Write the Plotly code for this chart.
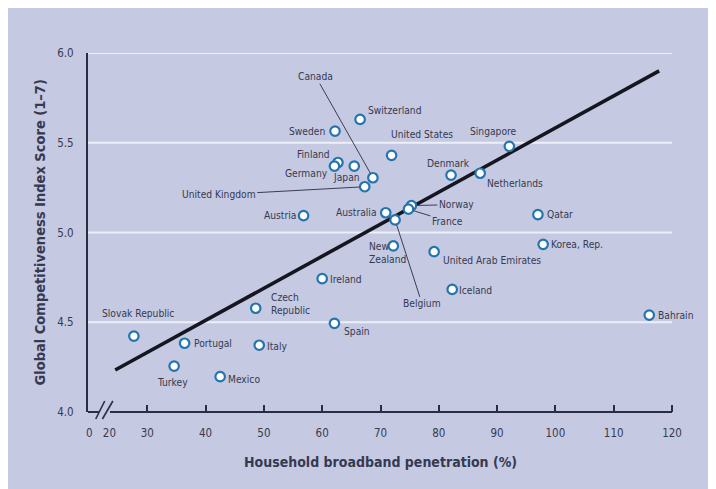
import plotly.graph_objects as go

# ---- data ----
countries = ["Switzerland", "Sweden", "United States", "Singapore", "Finland", "Germany",
             "Japan", "Canada", "United Kingdom", "Denmark", "Netherlands", "Austria",
             "Australia", "Norway", "France", "Belgium", "Qatar", "Korea, Rep.",
             "New<br>Zealand", "United Arab Emirates", "Ireland", "Iceland", "Bahrain",
             "Spain", "Czech<br>Republic", "Slovak Republic", "Portugal", "Italy",
             "Turkey", "Mexico"]
broadband = [66.5, 62.2, 71.9, 92.1, 62.7, 62.1, 65.5, 68.7, 67.3, 82.1, 87.1, 56.8,
             70.9, 75.3, 74.8, 72.5, 97.0, 97.9, 72.2, 79.2, 60.0, 82.3, 116.1,
             62.1, 48.6, 27.7, 36.4, 49.2, 34.6, 42.5]
gci = [5.63, 5.565, 5.43, 5.48, 5.39, 5.37, 5.37, 5.305, 5.255, 5.32, 5.33, 5.094,
       5.11, 5.15, 5.13, 5.07, 5.10, 4.934, 4.925, 4.893, 4.743, 4.683, 4.54,
       4.494, 4.578, 4.423, 4.383, 4.372, 4.256, 4.197]

trend_x = [24.5, 117.8]
trend_y = [4.234, 5.90]

x_tick_vals = [20.05, 23.5, 30, 40, 50, 60, 70, 80, 90, 100, 110, 120]
x_tick_text = ["0", "20", "30", "40", "50", "60", "70", "80", "90", "100", "110", "120"]
x_minor_ticks = [30, 40, 50, 60, 70, 80, 90, 100, 110, 120]
y_tick_vals = [4.0, 4.5, 5.0, 5.5, 6.0]
y_grid_vals = [4.5, 5.0, 5.5, 6.0]

# label placement: (mode, dx, dy, anchor) ; 'txt' -> xshift/yshift, 'arrow' -> ax/ay pixel offsets
label_pos = {
    "Switzerland": ("txt", 6, 9, "left"),
    "Sweden": ("txt", -8, 0, "right"),
    "United States": ("txt", 30, 21, "center"),
    "Singapore": ("txt", -16, 15, "center"),
    "Finland": ("txt", -6, 8, "right"),
    "Germany": ("txt", -4, -7, "right"),
    "Japan": ("txt", -8, -11, "center"),
    "Canada": ("arrow", -57, -101, "center"),
    "United Kingdom": ("arrow", -146, 8, "center"),
    "Denmark": ("txt", -3, 12, "center"),
    "Netherlands": ("txt", 5, -10, "left"),
    "Austria": ("txt", -6, 0, "right"),
    "Australia": ("txt", -7, 0, "right"),
    "Norway": ("arrow", 45, -1, "center"),
    "France": ("arrow", 39, 12, "center"),
    "Belgium": ("arrow", 27, 84, "center"),
    "Qatar": ("txt", 7, 0, "left"),
    "Korea, Rep.": ("txt", 6, 0, "left"),
    "New<br>Zealand": ("txt", -26, -7, "left"),
    "United Arab Emirates": ("txt", 7, -9, "left"),
    "Ireland": ("txt", 6, -1, "left"),
    "Iceland": ("txt", 5, -1, "left"),
    "Bahrain": ("txt", 7, 0, "left"),
    "Spain": ("txt", 8, -8, "left"),
    "Czech<br>Republic": ("txt", 13, 4, "left"),
    "Slovak Republic": ("txt", 4, 23, "center"),
    "Portugal": ("txt", 7, 0, "left"),
    "Italy": ("txt", 6, -1, "left"),
    "Turkey": ("txt", -2, -16, "center"),
    "Mexico": ("txt", 6, -3, "left"),
}

# ---- style ----
BG = "#c5c9e2"
TXT = "#363a50"
AXC = "#2a2e42"
FONT = "Liberation Sans Narrow, Arial Narrow, DejaVu Sans Condensed, sans-serif"
W, H = 716, 489
OFF = 8  # page body margin
ML, MT = 80, 45
PW, PH = 584, 359
MR, MB = W - ML - PW, H - MT - PH
XR = [19.83, 120]


def px2paper_x(px):
    return (px - OFF - ML) / PW


def py2paper_y(py):
    return (MT + PH - (py - OFF)) / PH


fig = go.Figure()

fig.add_trace(go.Scatter(x=trend_x, y=trend_y, mode="lines",
                         line=dict(color="#15161f", width=3.6),
                         hoverinfo="skip", showlegend=False))

fig.add_trace(go.Scatter(x=broadband, y=gci, mode="markers", text=countries,
                         marker=dict(symbol="circle", size=9.5, color="white",
                                     line=dict(color="#2474ae", width=2.2)),
                         showlegend=False, cliponaxis=False))

LBL = dict(family=FONT, size=10.2, color=TXT)
annotations = []
for c, xv, yv in zip(countries, broadband, gci):
    mode, dx, dy, anc = label_pos[c]
    if mode == "txt":
        annotations.append(dict(x=xv, y=yv, xref="x", yref="y", text=c, showarrow=False,
                                xanchor=anc, yanchor="middle", align="left",
                                xshift=dx, yshift=dy, font=LBL))
    else:
        annotations.append(dict(x=xv, y=yv, xref="x", yref="y", text=c, showarrow=True,
                                arrowhead=0, arrowwidth=1, arrowcolor="#3a3e54",
                                ax=dx, ay=dy, standoff=5, font=LBL))

# axis titles
annotations.append(dict(x=0.5, y=py2paper_y(462), xref="paper", yref="paper",
                        text="<b>Household broadband penetration (%)</b>", showarrow=False,
                        xanchor="center", yanchor="middle",
                        font=dict(family=FONT, size=14, color=TXT)))
annotations.append(dict(x=px2paper_x(39), y=0.5, xref="paper", yref="paper",
                        text="<b>Global Competitiveness Index Score (1–7)</b>", showarrow=False,
                        textangle=-90, xanchor="center", yanchor="middle",
                        font=dict(family=FONT, size=14.5, color=TXT)))

shapes = []
# gridlines
for gv in y_grid_vals:
    shapes.append(dict(type="line", xref="paper", yref="y", x0=0, x1=1, y0=gv, y1=gv,
                       line=dict(color="#eef0f9", width=2), layer="below"))
# x axis line with break
shapes.append(dict(type="line", xref="x", yref="paper", x0=XR[0], x1=21.7, y0=0, y1=0,
                   line=dict(color=AXC, width=2)))
shapes.append(dict(type="line", xref="x", yref="paper", x0=23.6, x1=120, y0=0, y1=0,
                   line=dict(color=AXC, width=2)))
for (a, b) in [(21.15, 22.7), (22.3, 24.1)]:
    shapes.append(dict(type="line", xref="x", yref="paper", x0=a, x1=b,
                       y0=py2paper_y(419), y1=py2paper_y(401),
                       line=dict(color=AXC, width=1.6)))

fig.update_layout(
    width=W, height=H,
    margin=dict(l=ML, r=MR, t=MT, b=MB),
    paper_bgcolor=BG, plot_bgcolor=BG,
    font=dict(family=FONT, color=TXT),
    annotations=annotations, shapes=shapes,
    xaxis=dict(range=XR, showgrid=False, zeroline=False, showline=False,
               tickmode="array", tickvals=x_tick_vals, ticktext=x_tick_text,
               ticks="", ticklabelstandoff=12,
               tickfont=dict(family=FONT, size=11.5, color=TXT),
               minor=dict(tickmode="array", tickvals=x_minor_ticks, ticks="inside",
                          ticklen=7, tickwidth=2, tickcolor=AXC, showgrid=False)),
    yaxis=dict(range=[4.0, 6.0], showgrid=False, zeroline=False, showline=True,
               linecolor=AXC, linewidth=2,
               tickmode="array", tickvals=y_tick_vals,
               ticktext=[f"{v:.1f}" for v in y_tick_vals],
               ticks="", ticklabelstandoff=10,
               tickfont=dict(family=FONT, size=11.5, color=TXT)),
)

fig.write_html("out.html")
